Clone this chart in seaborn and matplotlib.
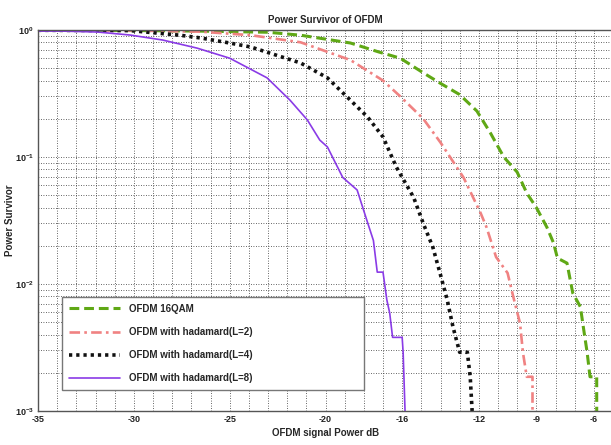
import numpy as np
import pandas as pd
import matplotlib
matplotlib.use("Agg")
import matplotlib.pyplot as plt
import seaborn as sns
from matplotlib.ticker import FixedLocator, MultipleLocator, LogLocator, NullFormatter

# ---------------------------------------------------------------------------
# data (CCDF of OFDM signal power)
# ---------------------------------------------------------------------------
qam_x = [-35, -30, -26.5, -23.0, -21.3, -18.7, -17.2, -16.1, -14.9, -14.0, -13.0, -12.1,
         -11.4, -10.7, -10.0, -9.5, -9.0, -8.45, -8.1, -7.9, -7.4, -7.1, -6.7, -6.55,
         -6.35, -6.2, -5.85, -5.85]
qam_y = [0.995, 0.99, 0.98, 0.96, 0.91, 0.79, 0.67, 0.60, 0.46, 0.38, 0.31, 0.23,
         0.155, 0.10, 0.076, 0.052, 0.040, 0.028, 0.021, 0.016, 0.0146, 0.0085, 0.0066, 0.0046,
         0.0029, 0.00186, 0.00186, 0.001]

had2_x = [-35, -30, -26.5, -23.9, -21.3, -18.7, -17.0, -16.1, -14.9, -14.0, -12.8, -11.9,
          -11.6, -11.1, -10.5, -10.2, -9.85, -9.7, -9.5, -9.2, -9.2]
had2_y = [0.995, 0.99, 0.97, 0.91, 0.80, 0.58, 0.40, 0.30, 0.20, 0.13, 0.069, 0.036,
          0.028, 0.0163, 0.0122, 0.0079, 0.0049, 0.0029, 0.00186, 0.00186, 0.001]

had4_x = [-35, -30.2, -27.6, -26.5, -25.0, -23.9, -21.3, -19.9, -18.7, -17.8, -17.0, -16.3,
          -15.4, -14.9, -14.4, -14.0, -13.65, -13.35, -13.0, -12.6, -12.45, -12.35]
had4_y = [0.995, 0.99, 0.91, 0.865, 0.79, 0.735, 0.55, 0.42, 0.28, 0.206, 0.144, 0.083,
          0.048, 0.030, 0.0195, 0.0118, 0.0075, 0.0046, 0.0029, 0.0029, 0.00186, 0.001]

had8_x = [-35, -33.7, -31.9, -30.2, -28.5, -26.7, -25.0, -23.05, -21.85, -20.95, -20.3, -19.9,
          -19.1, -18.35, -17.85, -17.5, -17.3, -17.0, -16.8, -16.65, -16.5, -16.0, -15.95, -15.85]
had8_y = [0.98, 0.98, 0.964, 0.913, 0.834, 0.72, 0.60, 0.42, 0.28, 0.196, 0.136, 0.12,
          0.069, 0.055, 0.032, 0.022, 0.0124, 0.0124, 0.0075, 0.0059, 0.0038, 0.0038, 0.0029, 0.001]

labels = ["OFDM 16QAM", "OFDM with hadamard(L=2)", "OFDM with hadamard(L=4)", "OFDM with hadamard(L=8)"]
xtick_vals = [-35, -30, -25, -20, -16, -12, -9, -6]
xtick_text = ["-35", "-30", "-25", "-20", "-16", "-12", "-9", "-6"]

series_x = [qam_x, had2_x, had4_x, had8_x]
series_y = [qam_y, had2_y, had4_y, had8_y]

# styles
colors = ["#5fa815", "#f08282", "#111111", "#8a3be6"]
styles = [(0, (3.2, 1.6)), (0, (4.0, 1.6, 1.0, 1.6)), (0, (0.9, 1.1)), "-"]
widths = [2.2, 1.9, 2.6, 1.2]

sns.set_theme(style="white")
plt.rcParams["font.family"] = ["Liberation Sans", "DejaVu Sans"]
plt.rcParams["axes.unicode_minus"] = False
plt.rcParams["mathtext.fontset"] = "custom"
plt.rcParams["mathtext.rm"] = "Liberation Sans"
plt.rcParams["mathtext.bf"] = "Liberation Sans:bold"

fig = plt.figure(figsize=(6.11, 4.45), dpi=100)
ax = fig.add_axes([38 / 611, 34 / 445, 575 / 611, 381 / 445])

for xs, ys, lab, c, ls, lw in zip(series_x, series_y, labels, colors, styles, widths):
    df = pd.DataFrame({"x": xs, "y": ys})
    sns.lineplot(data=df, x="x", y="y", ax=ax, sort=False, estimator=None,
                 color=c, linestyle=ls, linewidth=lw, label=lab)

ax.set_yscale("log")
ax.set_xlim(-35, -5)
ax.set_ylim(1e-3, 1)

ax.xaxis.set_major_locator(FixedLocator(xtick_vals))
ax.set_xticklabels(xtick_text)
ax.xaxis.set_minor_locator(MultipleLocator(1))
ax.yaxis.set_major_locator(LogLocator(base=10))
ax.yaxis.set_minor_locator(LogLocator(base=10, subs=np.arange(2, 10)))
ax.yaxis.set_minor_formatter(NullFormatter())

ax.grid(True, which="both", color="#333333", linestyle=(0, (1, 2)), linewidth=0.6)
ax.tick_params(axis="both", which="both", direction="in", length=3, width=0.6,
               labelsize=6.5, colors="#222222", pad=3)
ax.tick_params(axis="both", which="minor", length=1.5)
for lab in ax.get_xticklabels() + ax.get_yticklabels():
    lab.set_fontweight("bold")

for sp in ax.spines.values():
    sp.set_color("#555555")
    sp.set_linewidth(1.0)

ax.set_title("Power Survivor of OFDM", fontsize=7, fontweight="bold", pad=5)
ax.set_xlabel("OFDM signal Power dB", fontsize=7, fontweight="bold", labelpad=3)
ax.set_ylabel("Power Survivor", fontsize=7, fontweight="bold", va="center")
ax.yaxis.set_label_coords(-0.049, 0.5)

leg = ax.legend(loc="lower left", bbox_to_anchor=(0.042, 0.055, 0.525, 0.236), mode="expand",
                borderaxespad=0, fancybox=False, frameon=True, edgecolor="#777777",
                handlelength=5.3, handletextpad=0.9, labelspacing=1.35, borderpad=0.7,
                prop={"size": 7, "weight": "bold"})
leg.get_frame().set_linewidth(1.0)
leg.get_frame().set_facecolor("white")
leg.get_frame().set_alpha(1)

fig.savefig("out.png", dpi=100)
